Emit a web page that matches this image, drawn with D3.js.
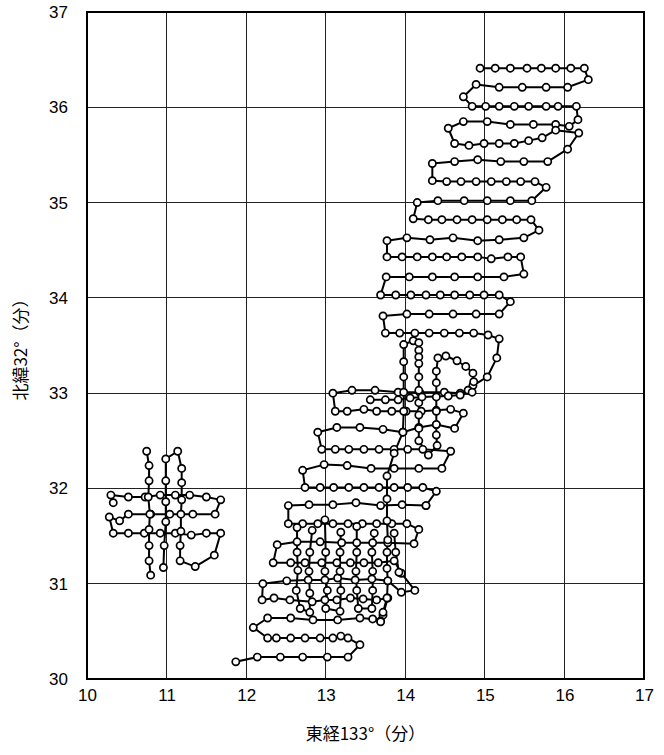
<!DOCTYPE html>
<html><head><meta charset="utf-8">
<script src="https://cdn.jsdelivr.net/npm/d3@7"></script>
<style>
html,body{margin:0;padding:0;background:#fff;}
svg{display:block;}
</style></head>
<body>
<svg id="chart" width="664" height="755"></svg>
<script>
// Axis ticks
const xTicks = [10, 11, 12, 13, 14, 15, 16, 17];
const yTicks = [30, 31, 32, 33, 34, 35, 36, 37];
const xTitle = "東経133°（分）";
const yTitle = "北緯32°（分）";

// Survey tracks: [longitude minutes, latitude minutes]
const trackNorth = [
 [14.94,36.41],[15.13,36.41],[15.32,36.41],[15.53,36.41],[15.71,36.41],[15.89,36.41],[16.08,36.41],[16.25,36.41],
 [16.30,36.29],
 [16.04,36.21],[15.77,36.21],[15.47,36.21],[15.18,36.21],[14.89,36.24],
 [14.73,36.11],
 [14.84,36.01],[15.01,36.01],[15.18,36.01],[15.37,36.01],[15.55,36.01],[15.77,36.01],[15.92,36.01],[16.15,36.01],
 [16.17,35.87],
 [16.06,35.80],[15.89,35.82],[15.61,35.82],[15.32,35.82],[15.03,35.85],[14.73,35.85],[14.54,35.78],
 [14.62,35.62],
 [14.80,35.60],[14.99,35.62],[15.18,35.62],[15.37,35.62],[15.55,35.65],[15.72,35.68],[15.89,35.76],[16.18,35.73],
 [16.04,35.56],[15.79,35.43],
 [15.49,35.43],[15.20,35.43],[14.91,35.45],[14.62,35.43],[14.34,35.41],
 [14.34,35.23],
 [14.52,35.22],[14.70,35.22],[14.89,35.22],[15.08,35.22],[15.27,35.22],[15.45,35.22],[15.63,35.22],
 [15.77,35.16],
 [15.59,35.02],[15.32,35.02],[15.03,35.02],[14.74,35.02],[14.41,35.02],[14.15,35.00],
 [14.10,34.83],
 [14.29,34.82],[14.46,34.82],[14.65,34.82],[14.84,34.82],[15.03,34.82],[15.22,34.82],[15.40,34.82],[15.58,34.82],
 [15.68,34.71],
 [15.49,34.63],[15.18,34.61],[14.91,34.60],[14.60,34.63],[14.31,34.61],[14.02,34.63],[13.77,34.60],
 [13.77,34.43],[13.96,34.43],[14.15,34.43],[14.34,34.43],[14.52,34.43],[14.71,34.43],[14.91,34.43],[15.08,34.41],[15.29,34.43],[15.45,34.43],
 [15.49,34.25],
 [15.24,34.22],[14.91,34.22],[14.62,34.22],[14.34,34.22],[14.05,34.22],[13.76,34.22],
 [13.69,34.03],[13.88,34.03],[14.07,34.03],[14.26,34.03],[14.44,34.03],[14.62,34.03],[14.81,34.03],[14.99,34.03],[15.18,34.03],
 [15.32,33.96],
 [15.18,33.83],[14.89,33.83],[14.60,33.83],[14.30,33.83],[14.02,33.83],[13.72,33.81],
 [13.75,33.63],[13.93,33.63],[14.12,33.63],[14.30,33.63],[14.49,33.63],[14.68,33.63],[14.86,33.63],[15.04,33.61],[15.18,33.57],
 [15.15,33.37],[15.03,33.17],[14.85,33.08],[14.79,33.03]
];

const trackMiddle = [
 [14.79,33.03],[14.69,33.00],[14.49,33.01],[14.18,33.01],[13.91,33.01],[13.62,33.03],[13.33,33.03],[13.09,33.00],
 [13.12,32.81],
 [13.27,32.81],[13.48,32.83],[13.64,32.81],[13.83,32.81],[14.01,32.81],[14.20,32.81],[14.39,32.82],[14.57,32.83],[14.73,32.79],
 [14.62,32.63],
 [14.39,32.67],[14.17,32.64],[13.97,32.59],[13.72,32.62],[13.43,32.64],[13.14,32.64],[12.90,32.59],
 [12.95,32.41],
 [13.12,32.41],[13.29,32.41],[13.48,32.41],[13.67,32.41],[13.86,32.41],[14.03,32.41],[14.22,32.41],[14.57,32.39],
 [14.46,32.21],
 [14.17,32.21],[13.86,32.21],[13.57,32.21],[13.27,32.24],[12.98,32.25],[12.71,32.19],
 [12.74,32.01],
 [12.93,32.01],[13.10,32.01],[13.29,32.01],[13.48,32.01],[13.67,32.01],[13.86,32.01],[14.03,32.01],[14.22,32.01],[14.39,31.97],
 [14.26,31.82]
];

const trackSouth = [
 [14.26,31.82],[13.96,31.83],[13.69,31.82],[13.38,31.85],[13.09,31.83],[12.79,31.83],[12.53,31.82],
 [12.53,31.63],
 [12.71,31.63],[12.90,31.63],[13.09,31.63],[13.28,31.63],[13.46,31.63],[13.64,31.63],[13.83,31.63],[14.02,31.63],[14.17,31.57],
 [14.11,31.42],
 [13.78,31.43],[13.59,31.43],[13.39,31.43],[13.20,31.43],[12.93,31.44],[12.64,31.44],[12.39,31.41],
 [12.34,31.22],
 [12.56,31.22],[12.74,31.22],[12.95,31.22],[13.14,31.22],[13.31,31.22],[13.48,31.22],[13.66,31.22],[13.86,31.24],
 [13.95,31.11],
 [14.12,30.93],[13.95,30.91],[13.78,31.03],[13.58,31.05],[13.37,31.04],[13.15,31.06],[12.99,31.04],[12.78,31.04],[12.51,31.03],[12.21,31.00],
 [12.20,30.83],
 [12.35,30.85],[12.55,30.83],[12.83,30.81],[12.99,30.83],[13.14,30.83],[13.31,30.85],[13.47,30.84],[13.64,30.83],[13.78,30.85],
 [13.72,30.67],
 [13.69,30.61],[13.59,30.63],[13.43,30.64],[13.15,30.62],[12.84,30.62],[12.56,30.64],[12.27,30.64],
 [12.09,30.54],
 [12.27,30.43],[12.38,30.43],[12.56,30.43],[12.74,30.43],[12.93,30.43],[13.09,30.43],[13.19,30.45],[13.28,30.43],[13.43,30.36],
 [13.28,30.23],
 [13.02,30.23],[12.71,30.23],[12.43,30.23],[12.14,30.23],[11.87,30.18]
];

const trackMeridian = [
 [13.69,30.60],[13.72,30.70],[13.77,30.85],[13.78,31.03],[13.77,31.16],[13.77,31.33],[13.78,31.46],[13.77,31.66],
 [13.77,31.89],[13.77,32.13],[13.86,32.37],[13.97,32.59],[13.98,32.81],[13.98,33.01],[13.98,33.17],[13.98,33.33],
 [13.98,33.51],[14.10,33.55],[14.17,33.53],[14.17,33.45],[14.17,33.38],[14.17,33.31],[14.17,33.17],[14.17,33.03],
 [14.17,32.90],[14.17,32.77],[14.17,32.63],[14.17,32.50],[14.29,32.35],[14.40,32.45],[14.39,32.56],[14.39,32.67],
 [14.39,32.81],[14.39,32.96],[14.39,33.11],[14.39,33.23],[14.41,33.37],[14.51,33.39],[14.65,33.34],[14.76,33.28],
 [14.85,33.21],[14.86,33.12],[14.84,33.01],[14.69,32.98],[14.54,32.97],[14.21,32.96],[14.06,32.95],[13.91,32.93],
 [13.75,32.93],[13.56,32.93]
];

const trackGridA = [
 [12.64,31.59],[12.64,31.33],[12.65,31.14],[12.63,30.93],[12.68,30.74],[12.80,30.70],[12.80,30.90],[12.79,31.13],[12.80,31.33],[12.83,31.56]
];
const trackGridB = [
 [12.99,31.67],[13.00,31.33],[12.99,31.13],[13.02,30.93],[13.00,30.74],[13.18,30.71],[13.19,30.93],[13.18,31.13],[13.18,31.33],[13.19,31.54]
];
const trackGridC = [
 [13.39,31.60],[13.39,31.33],[13.38,31.13],[13.39,30.93],[13.41,30.74],[13.58,30.74],[13.59,30.93],[13.59,31.13],[13.58,31.33],[13.61,31.53]
];
const trackGridD = [
 [13.86,31.53],[13.88,31.33],[13.92,31.12]
];

const trackCrossA = [
 [10.33,31.85],[10.30,31.93],[10.52,31.91],[10.73,31.91],[10.92,31.93],[11.11,31.93],[11.29,31.93],[11.50,31.91],[11.68,31.88],
 [11.61,31.73],
 [11.33,31.73],[11.04,31.73],[10.80,31.73],[10.52,31.73],[10.41,31.66],[10.28,31.70],
 [10.33,31.53],
 [10.52,31.53],[10.72,31.53],[10.92,31.53],[11.11,31.53],[11.31,31.51],[11.50,31.53],[11.68,31.53],
 [11.60,31.30],[11.36,31.18],[11.17,31.24],
 [11.17,31.40],[11.18,31.55],[11.18,31.73],[11.19,31.88],[11.19,32.06],[11.19,32.21],[11.14,32.39],
 [10.99,32.31],[10.99,32.08],[10.99,31.86],[10.99,31.65],[10.97,31.40],[10.96,31.17]
];
const trackCrossB = [
 [10.75,32.39],[10.78,32.24],[10.78,32.08],[10.77,31.91],[10.79,31.73],[10.78,31.57],[10.78,31.40],[10.78,31.24],[10.80,31.09]
];

const tracks = [trackNorth, trackMiddle, trackSouth, trackMeridian,
  trackGridA, trackGridB, trackGridC, trackGridD, trackCrossA, trackCrossB];

const svg = d3.select("#chart");
const L = 87, R = 644, T = 12, B = 679;
const x = d3.scaleLinear().domain([10, 17]).range([L, R]);
const y = d3.scaleLinear().domain([30, 37]).range([B, T]);

// grid
const g = svg.append("g");
g.selectAll("line.vg").data(xTicks.slice(1, -1)).enter().append("line")
  .attr("x1", d => x(d)).attr("x2", d => x(d)).attr("y1", T).attr("y2", B)
  .attr("stroke", "#222").attr("stroke-width", 1).attr("shape-rendering", "crispEdges");
g.selectAll("line.hg").data(yTicks.slice(1, -1)).enter().append("line")
  .attr("x1", L).attr("x2", R).attr("y1", d => y(d)).attr("y2", d => y(d))
  .attr("stroke", "#222").attr("stroke-width", 1).attr("shape-rendering", "crispEdges");

// axes with labels
const xAxis = d3.axisBottom(x).tickValues(xTicks).tickSize(0).tickPadding(10).tickFormat(d3.format("d"));
const yAxis = d3.axisLeft(y).tickValues(yTicks).tickSize(0).tickPadding(19).tickFormat(d3.format("d"));
const gx = svg.append("g").attr("transform", `translate(0,${B})`).call(xAxis);
const gy = svg.append("g").attr("transform", `translate(${L},0)`).call(yAxis);
[gx, gy].forEach(a => {
  a.select(".domain").remove();
  a.selectAll("text").attr("font-family", "'Liberation Sans', Arial, sans-serif")
    .attr("font-size", 17).attr("fill", "#000");
});

// frame
svg.append("rect").attr("x", L).attr("y", T).attr("width", R - L).attr("height", B - T)
  .attr("fill", "none").attr("stroke", "#000").attr("stroke-width", 2);

// tracks
const line = d3.line().x(d => x(d[0])).y(d => y(d[1]));
const tg = svg.append("g");
tracks.forEach(t => {
  tg.append("path").datum(t).attr("d", line).attr("fill", "none")
    .attr("stroke", "#000").attr("stroke-width", 2).attr("stroke-linejoin", "round");
});
const cg = svg.append("g");
tracks.forEach(t => {
  cg.selectAll(null).data(t).enter().append("circle")
    .attr("cx", d => x(d[0])).attr("cy", d => y(d[1])).attr("r", 3.6)
    .attr("fill", "#fff").attr("stroke", "#000").attr("stroke-width", 1.7);
});

// titles
svg.append("text").attr("x", (L + R) / 2).attr("y", 740).attr("text-anchor", "middle")
  .attr("font-family", "'Noto Sans CJK JP', sans-serif").attr("font-size", 17).text(xTitle);
svg.append("text").attr("transform", `translate(27,${(T + B) / 2}) rotate(-90)`).attr("text-anchor", "middle")
  .attr("font-family", "'Noto Sans CJK JP', sans-serif").attr("font-size", 17).text(yTitle);
</script>
</body></html>
